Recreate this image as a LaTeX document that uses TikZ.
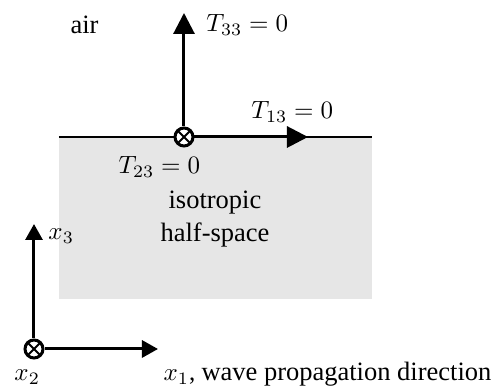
\documentclass[tikz,border=0pt]{standalone}
\usepackage[no-math]{fontspec}
\setmainfont{Liberation Serif}
\usepackage{amsmath}
\usetikzlibrary{positioning,arrows.meta}
\definecolor{solidgray}{RGB}{230,230,230}
\tikzset{
  bigvec/.style  = {-{Triangle[length=8.4pt,width=8.4pt]}, line width=1.2pt},
  axisvec/.style = {-{Triangle[length=6.4pt,width=6.8pt]}, line width=1.2pt},
  into/.style    = {circle, draw, line width=1.2pt, fill=white, minimum size=7.2pt, inner sep=0pt,
                    path picture={\draw[line width=0.8pt]
                      (path picture bounding box.north west) -- (path picture bounding box.south east)
                      (path picture bounding box.north east) -- (path picture bounding box.south west);}},
  lbl/.style     = {anchor=base west, inner sep=0pt},
  txt/.style     = {font=\fontsize{10.6}{13.2}\selectfont},
}
\begin{document}
\begin{tikzpicture}[x=0.4pt, y=-0.4pt]
  \useasboundingbox (0,0) rectangle (495,390);
  % half-space and its free surface
  \fill[solidgray] (59,137) rectangle (372,299);
  \draw[line width=0.5pt] (59,137) -- (372,137);
  \node[txt, lbl] (air) at (70,34) {air};
  \node[txt, align=center, inner sep=0pt] (solid) at (215,219) {isotropic\\half-space};
  % traction-free conditions
  \node[into] (src) at (184,137) {};
  \coordinate (t33tip) at (184,13);
  \coordinate (t13tip) at (308,137);
  \draw[bigvec] (src) -- (t33tip);
  \draw[bigvec] (src) -- (t13tip);
  \node[lbl] (t33) at (206,32)  {$T_{33}=0$};
  \node[lbl] (t13) at (251,119) {$T_{13}=0$};
  \node[lbl] (t23) at (118,174) {$T_{23}=0$};
  % coordinate system
  \node[into] (orig) at (34,349) {};
  \coordinate (x3tip) at (34,224);
  \coordinate (x1tip) at (158,349);
  \draw[axisvec] (orig) -- (x3tip);
  \draw[axisvec] (orig) -- (x1tip);
  \node[lbl] (x3) at (48,240)  {$x_3$};
  \node[lbl] (x2) at (14,381)  {$x_2$};
  \node[lbl] (x1) at (163,381) {$x_1$, {\fontsize{10.6}{13.2}\selectfont wave propagation direction}};
\end{tikzpicture}
\end{document}
